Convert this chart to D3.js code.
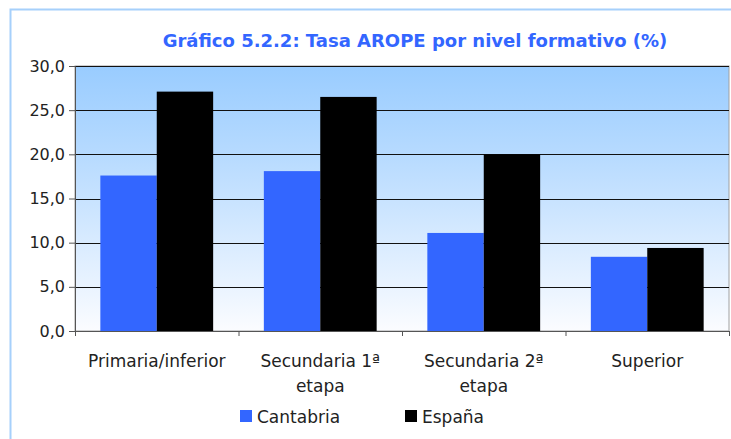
<!DOCTYPE html>
<html>
<head>
<meta charset="utf-8">
<script src="https://cdn.jsdelivr.net/npm/d3@7"></script>
<style>
  body { margin: 0; background: #fff; }
  text { font-family: "DejaVu Sans", sans-serif; }
</style>
</head>
<body>
<div id="chart"></div>
<script>
// Data
const categories = ["Primaria/inferior", "Secundaria 1ª etapa", "Secundaria 2ª etapa", "Superior"];
const categoryLines = [["Primaria/inferior"], ["Secundaria 1ª", "etapa"], ["Secundaria 2ª", "etapa"], ["Superior"]];
const seriesNames = ["Cantabria", "España"];
const cantabria = [17.6, 18.1, 11.1, 8.4];
const espana = [27.1, 26.5, 20.0, 9.4];
const yTicks = [0, 5, 10, 15, 20, 25, 30];
const colors = ["#3366ff", "#000000"];

const W = 731, H = 439;
const margin = { top: 66, right: 2, bottom: 108, left: 75 };
const width = W - margin.left - margin.right,
      height = H - margin.top - margin.bottom;

const root = d3.select("#chart").append("svg")
    .attr("width", W)
    .attr("height", H);

// Outer frame
root.append("rect")
    .attr("x", 10.5).attr("y", 9.5)
    .attr("width", W).attr("height", H)
    .attr("fill", "#fff")
    .attr("stroke", "#a6d0fb")
    .attr("stroke-width", 2);

// Gradient for plot area
const defs = root.append("defs");
const grad = defs.append("linearGradient")
    .attr("id", "bg").attr("x1", 0).attr("y1", 0).attr("x2", 0).attr("y2", 1);
grad.append("stop").attr("offset", "0%").attr("stop-color", "#99ccff");
grad.append("stop").attr("offset", "35%").attr("stop-color", "#b8dbff");
grad.append("stop").attr("offset", "100%").attr("stop-color", "#fbfcff");

// Title
root.append("text")
    .attr("x", 415)
    .attr("y", 47)
    .attr("text-anchor", "middle")
    .attr("fill", "#3366ff")
    .style("font-size", "18px")
    .style("font-weight", "bold")
    .text("Gráfico 5.2.2: Tasa AROPE por nivel formativo (%)");

const svg = root.append("g")
    .attr("transform", `translate(${margin.left},${margin.top})`);

svg.append("rect")
    .attr("width", width).attr("height", height)
    .attr("fill", "url(#bg)")
    .attr("stroke", "#a0a0a0");

// Scales
const x0 = d3.scaleBand()
    .domain(categories)
    .range([0, width])
    .paddingInner(0.31)
    .paddingOuter(0.155);

const x1 = d3.scaleBand()
    .domain(seriesNames)
    .range([0, x0.bandwidth()]);

const y = d3.scaleLinear()
    .domain([0, 30])
    .range([height, 0]);

// Gridlines
svg.selectAll(".grid")
    .data(yTicks.slice(1))
    .enter().append("line")
    .attr("x1", 0).attr("x2", width)
    .attr("y1", d => Math.round(y(d)) + 0.5)
    .attr("y2", d => Math.round(y(d)) + 0.5)
    .attr("stroke", "#111")
    .attr("stroke-width", 1);

// Bars
const groups = svg.selectAll(".group")
    .data(categories)
    .enter().append("g")
    .attr("transform", d => `translate(${x0(d)},0)`);

groups.selectAll("rect")
    .data((d, i) => [
        { key: "Cantabria", value: cantabria[i] },
        { key: "España", value: espana[i] }
    ])
    .enter().append("rect")
    .attr("x", d => x1(d.key))
    .attr("width", x1.bandwidth())
    .attr("y", d => y(d.value))
    .attr("height", d => height - y(d.value))
    .attr("fill", (d, i) => colors[i]);

// Y axis
const yAxis = svg.append("g")
    .call(d3.axisLeft(y).tickValues(yTicks).tickSize(6).tickPadding(4)
        .tickFormat(d => d3.format(".1f")(d).replace(".", ",")));
yAxis.select(".domain").attr("stroke", "#555");
yAxis.selectAll(".tick line").attr("stroke", "#555");
yAxis.selectAll("text")
    .attr("fill", "#222")
    .style("font-size", "16px");

// X axis with ticks at band boundaries
const xb = d3.scaleLinear().domain([0, categories.length]).range([0, width]);
const xAxis = svg.append("g")
    .attr("transform", `translate(0,${height})`)
    .call(d3.axisBottom(xb).ticks(categories.length).tickSize(5).tickFormat(""));
xAxis.select(".domain").attr("stroke", "#555");
xAxis.selectAll(".tick line").attr("stroke", "#555");

// Category labels
const labels = svg.selectAll(".xlabel")
    .data(categories)
    .enter().append("text")
    .attr("text-anchor", "middle")
    .attr("fill", "#222")
    .style("font-size", "17px")
    .attr("transform", d => `translate(${x0(d) + x0.bandwidth() / 2},${height + 36})`);

labels.selectAll("tspan")
    .data((d, i) => categoryLines[i])
    .enter().append("tspan")
    .attr("x", 0)
    .attr("dy", (d, i) => i === 0 ? 0 : 25)
    .text(d => d);

// Legend
const legendX = [240, 405];
const legend = root.selectAll(".legend")
    .data(seriesNames)
    .enter().append("g")
    .attr("transform", (d, i) => `translate(${legendX[i]},410)`);

legend.append("rect")
    .attr("width", 12).attr("height", 12)
    .attr("fill", (d, i) => colors[i]);

legend.append("text")
    .attr("x", 17)
    .attr("y", 13)
    .attr("fill", "#222")
    .style("font-size", "17px")
    .text(d => d);
</script>
</body>
</html>
